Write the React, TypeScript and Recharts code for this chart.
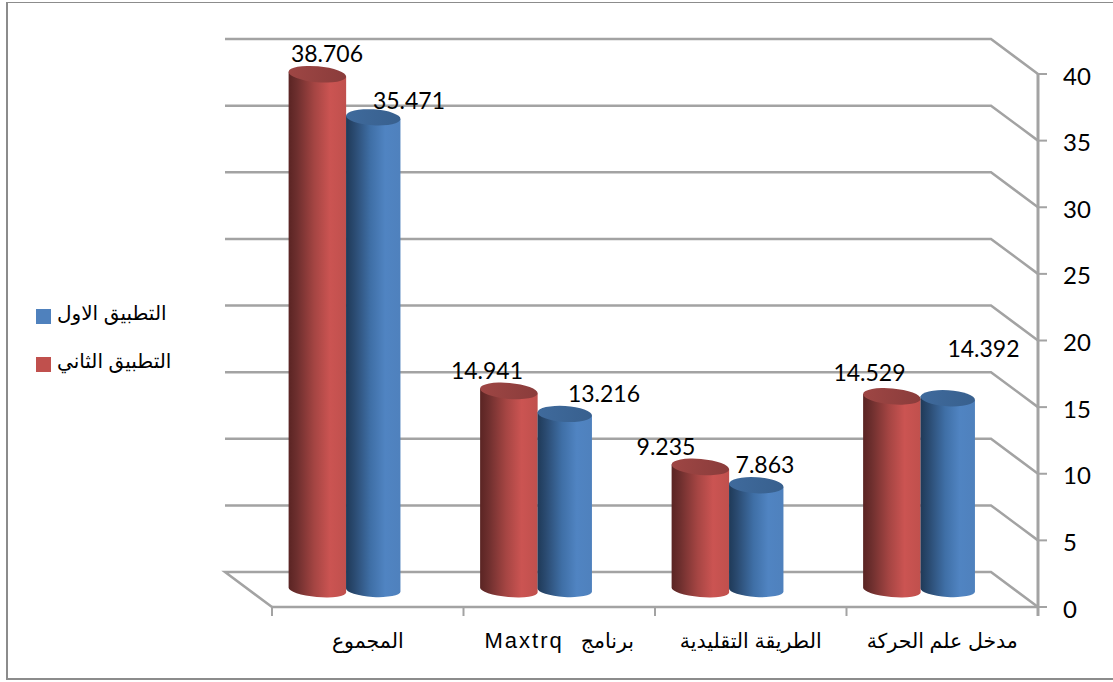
import React from 'react';
import { BarChart, Bar, XAxis, YAxis, CartesianGrid, Legend, LabelList } from 'recharts';

const categories = ['المجموع', 'برنامج\u00A0\u00A0\u00A0Maxtrq', 'الطريقة التقليدية', 'مدخل علم الحركة'];
const firstTry = [35.471, 13.216, 7.863, 14.392];
const secondTry = [38.706, 14.941, 9.235, 14.529];
const yTicks = [0, 5, 10, 15, 20, 25, 30, 35, 40];

const FIRST_NAME = 'التطبيق الاول';
const SECOND_NAME = 'التطبيق الثاني';

const data = categories.map((name, i) => ({ name, first: firstTry[i], second: secondTry[i] }));

// the data labels were dragged by hand in the original, so each has its own shift
const secondLabelShift = [[-13, -29], [-44.5, -29], [-57, -29], [-45, -32]];
const firstLabelShift = [[13, -25], [16.5, -29], [-14, -29], [13, -58]];

const WIDTH = 1113;
const HEIGHT = 682;
const PLOT_LEFT = 272;
const PLOT_RIGHT = 1038;
const PLOT_TOP = 74;
const PLOT_BOTTOM = 607;
const DEPTH_X = 47;
const DEPTH_Y = 35;
const BAR_LIFT = 17;
const BAND = (PLOT_RIGHT - PLOT_LEFT) / categories.length;

const LINE = '#a3a3a3';
const ARABIC_FONT = '"Liberation Sans", "DejaVu Sans", sans-serif';
const NUMBER_FONT = 'Lato, sans-serif';

const rad = (deg: number) => (deg * Math.PI) / 180;

const Cylinder = (props: any) => {
  const { x, y, width, height, body, cap, tilt, growLeft, growRight, capRy, baseRy } = props;
  const left = x - DEPTH_X / 2 - growLeft;
  const w = width + growLeft + growRight;
  const rx = w / 2;
  const cx = left + rx;
  const topY = y - BAR_LIFT;
  const baseY = y + height - BAR_LIFT;
  const ex = rx * Math.cos(rad(tilt));
  const ey = rx * Math.sin(rad(tilt));
  const path = [
    `M${cx - ex},${topY - ey}`,
    `L${cx - ex},${baseY - ey}`,
    `A${rx},${baseRy} ${tilt} 0 0 ${cx + ex},${baseY + ey}`,
    `L${cx + ex},${topY + ey}`,
    'Z',
  ].join(' ');
  return (
    <g>
      <path d={path} fill={`url(#${body})`} />
      <ellipse cx={cx} cy={topY} rx={rx} ry={capRy} fill={`url(#${cap})`} transform={`rotate(${tilt} ${cx} ${topY})`} />
    </g>
  );
};

const BackLine = (props: any) => {
  const { x1, y1, x2, index } = props;
  const floor = y1 >= PLOT_BOTTOM - 1;
  const pts = [
    [x1 - DEPTH_X, y1 - DEPTH_Y],
    [x2 - DEPTH_X, y1 - DEPTH_Y],
    [x2, y1],
  ];
  if (floor) pts.unshift([x1, y1]);
  return (
    <polyline
      key={index}
      points={pts.map((p) => p.join(',')).join(' ')}
      fill="none"
      stroke={LINE}
      strokeWidth={2.5}
    />
  );
};

// ticks sit on the band edges, not under the labels, so the tick draws its own marks
const CategoryTick = ({ x, y, payload, index }: any) => {
  const parts = String(payload.value).split(/([A-Za-z]+)/).filter(Boolean);
  return (
    <g>
      <line x1={x - BAND / 2} x2={x - BAND / 2} y1={PLOT_BOTTOM} y2={PLOT_BOTTOM + 9} stroke={LINE} strokeWidth={2} />
      {index === categories.length - 1 && (
        <line x1={x + BAND / 2} x2={x + BAND / 2} y1={PLOT_BOTTOM} y2={PLOT_BOTTOM + 9} stroke={LINE} strokeWidth={3} />
      )}
      <text x={x} y={PLOT_BOTTOM + 41} textAnchor="middle" direction="rtl" fontFamily={ARABIC_FONT} fontSize={20.5} fill="#000">
        {parts.map((part, i) =>
          /[A-Za-z]/.test(part) ? (
            <tspan key={i} fontSize={22} letterSpacing={2}>{part}</tspan>
          ) : (
            <tspan key={i}>{part}</tspan>
          ),
        )}
      </text>
    </g>
  );
};

const shiftedLabel = (shifts: number[][]) => (props: any) => {
  const { x, y, width, value, index } = props;
  const [dx, dy] = shifts[index];
  return (
    <text
      x={x + width / 2 + dx}
      y={y + dy}
      textAnchor="middle"
      fontFamily={NUMBER_FONT}
      fontSize={23}
      fill="#000"
    >
      {value.toFixed(3)}
    </text>
  );
};

const LegendBox = ({ payload }: any) => (
  <div style={{ fontFamily: ARABIC_FONT, fontSize: 20, color: '#000' }}>
    {[FIRST_NAME, SECOND_NAME].map((name) => {
      const item = (payload || []).find((p: any) => p.value === name);
      return (
        <div key={name} style={{ display: 'flex', alignItems: 'center', height: 48 }}>
          <span style={{ width: 15, height: 15, background: item ? item.color : '#000', marginRight: 6 }} />
          <span dir="rtl" style={{ position: 'relative', top: -3 }}>{name}</span>
        </div>
      );
    })}
  </div>
);

export default function App() {
  return (
    <div style={{ position: 'absolute', left: 0, top: 0, width: WIDTH, height: HEIGHT, overflow: 'hidden', background: '#fff' }}>
      <div
        style={{
          position: 'absolute',
          left: 6,
          top: 2,
          width: WIDTH,
          height: 675,
          borderLeft: '2px solid #8c8c8c',
          borderTop: '1px solid #8c8c8c',
          borderBottom: '2px solid #8c8c8c',
        }}
      />
      <div style={{ position: 'absolute', left: 0, top: 0 }}>
        <BarChart
          width={WIDTH}
          height={HEIGHT}
          data={data}
          barCategoryGap={40}
          barGap={0}
          margin={{ top: PLOT_TOP, left: PLOT_LEFT, right: 15, bottom: 35 }}
        >
          <defs>
            <linearGradient id="redBody" x1="0" y1="0" x2="1" y2="0">
              <stop offset="0%" stopColor="#5a2423" />
              <stop offset="15%" stopColor="#6e2f2e" />
              <stop offset="45%" stopColor="#a54543" />
              <stop offset="72%" stopColor="#cb5452" />
              <stop offset="100%" stopColor="#c0504d" />
            </linearGradient>
            <linearGradient id="blueBody" x1="0" y1="0" x2="1" y2="0">
              <stop offset="0%" stopColor="#1f3a58" />
              <stop offset="15%" stopColor="#2a4a70" />
              <stop offset="45%" stopColor="#3f6fa6" />
              <stop offset="72%" stopColor="#5084c2" />
              <stop offset="100%" stopColor="#4f81bd" />
            </linearGradient>
            <linearGradient id="redCap" x1="0" y1="0" x2="1" y2="0">
              <stop offset="0%" stopColor="#9e4644" />
              <stop offset="100%" stopColor="#8a3c3b" />
            </linearGradient>
            <linearGradient id="blueCap" x1="0" y1="0" x2="1" y2="0">
              <stop offset="0%" stopColor="#3f6a9c" />
              <stop offset="100%" stopColor="#38608e" />
            </linearGradient>
          </defs>
          <CartesianGrid vertical={false} syncWithTicks horizontal={BackLine} />
          <XAxis
            dataKey="name"
            height={40}
            interval={0}
            tick={CategoryTick}
            tickLine={false}
            axisLine={{ stroke: LINE, strokeWidth: 2.5 }}
          />
          <YAxis
            orientation="right"
            width={60}
            domain={[0, 40]}
            ticks={yTicks}
            interval={0}
            tickSize={9}
            tickMargin={16}
            axisLine={{ stroke: LINE, strokeWidth: 3 }}
            tickLine={{ stroke: LINE, strokeWidth: 2 }}
            tick={{ fill: '#000', fontFamily: NUMBER_FONT, fontSize: 24, dy: 2 }}
          />
          <Legend
            layout="vertical"
            align="center"
            verticalAlign="middle"
            wrapperStyle={{ left: 36, top: 292, width: 150 }}
            content={LegendBox}
          />
          <Bar
            dataKey="second"
            name={SECOND_NAME}
            fill="#c0504d"
            isAnimationActive={false}
            shape={(p: any) => (
              <Cylinder {...p} body="redBody" cap="redCap" tilt={5} growLeft={0} growRight={1.75} capRy={8} baseRy={7} />
            )}
          >
            <LabelList dataKey="second" content={shiftedLabel(secondLabelShift)} />
          </Bar>
          <Bar
            dataKey="first"
            name={FIRST_NAME}
            fill="#4f81bd"
            isAnimationActive={false}
            shape={(p: any) => (
              <Cylinder {...p} body="blueBody" cap="blueCap" tilt={3.5} growLeft={-1.5} growRight={0} capRy={8} baseRy={7} />
            )}
          >
            <LabelList dataKey="first" content={shiftedLabel(firstLabelShift)} />
          </Bar>
        </BarChart>
      </div>
    </div>
  );
}
